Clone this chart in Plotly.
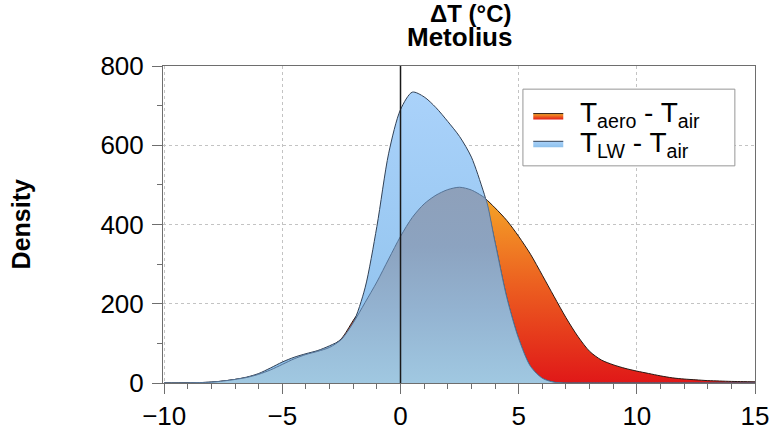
import numpy as np
import plotly.graph_objects as go

# ---- data ----
dT = [-10, -9.5, -9, -8.5, -8, -7.5, -7, -6.5, -6, -5.5, -5, -4.5, -4, -3.5, -3, -2.5, -2, -1.5,
      -1, -0.5, 0, 0.5, 1, 1.5, 2, 2.5, 3, 3.5, 3.6, 4, 4.5, 5, 5.5, 6, 6.5, 7, 7.5, 8, 8.5,
      9, 9.5, 10, 10.5, 11, 11.5, 12, 12.5, 13, 13.5, 14, 14.5, 15]
dens_aero = [0, 0, 0.3, 1, 2, 5, 9, 14, 22, 33, 47, 61, 72, 80, 90, 112, 158, 203,
             255, 313, 370, 418, 452, 474, 488, 494, 487, 470, 465, 442, 410, 370, 325, 272, 218, 165, 118, 80, 58,
             46, 37, 30, 24, 18, 13, 10, 8, 6, 5, 4, 3.5, 3]
dens_lw = [0, 0, 0.3, 1, 2.5, 5, 9, 15, 24, 38, 53, 65, 74, 82, 94, 110, 152, 240,
           395, 580, 690, 734, 722, 695, 660, 622, 570, 485, 465, 355, 215, 112, 42, 12, 2, 0, 0, 0, 0,
           0, 0, 0, 0, 0, 0, 0, 0, 0, 0, 0, 0, 0]
series_names = ["T<sub>aero</sub> - T<sub>air</sub>", "T<sub>LW</sub> - T<sub>air</sub>"]
x_ticks = [-10, -5, 0, 5, 10, 15]
y_ticks = [0, 200, 400, 600, 800]

overlap = np.minimum(np.array(dens_aero), np.array(dens_lw))

fig = go.Figure()
fig.add_trace(go.Scatter(
    x=dT, y=dens_aero, mode="lines", fill="tozeroy", line_shape="spline",
    line=dict(color="rgb(40,25,20)", width=1, smoothing=0.8),
    fillgradient=dict(type="vertical", start=0, stop=max(dens_aero),
                      colorscale=[[0, "rgb(224,24,24)"], [0.5, "rgb(236,95,32)"], [1, "rgb(246,172,40)"]]),
    name=" "))
fig.add_trace(go.Scatter(
    x=dT, y=dens_lw, mode="lines", fill="tozeroy", line_shape="spline",
    line=dict(color="rgb(50,65,85)", width=1, smoothing=0.8),
    fillgradient=dict(type="vertical", start=0, stop=max(dens_lw),
                      colorscale=[[0, "rgb(140,192,235)"], [1, "rgb(170,210,250)"]]),
    name="  "))
fig.add_trace(go.Scatter(
    x=dT, y=overlap, mode="lines", fill="tozeroy", line_shape="spline",
    line=dict(color="rgb(85,115,150)", width=1, smoothing=0.8),
    fillgradient=dict(type="vertical", start=0, stop=float(overlap.max()),
                      colorscale=[[0, "rgb(160,200,225)"], [0.35, "rgb(148,180,210)"],
                                  [0.7, "rgb(140,163,192)"], [1, "rgb(142,160,186)"]]),
    showlegend=False, hoverinfo="skip"))

fig.add_shape(type="line", x0=0, x1=0, y0=0, y1=800, xref="x", yref="y",
              line=dict(color="rgb(25,25,25)", width=1.5), layer="above")
# legend frame
fig.add_shape(type="rect", x0=0.608, x1=0.966, y0=0.685, y1=0.927, xref="paper", yref="paper",
              line=dict(color="rgb(150,150,150)", width=1), fillcolor="white", layer="above")

axis_common = dict(showline=True, linecolor="rgb(110,110,110)", linewidth=1, mirror=True,
                   ticks="outside", ticklen=10, tickcolor="rgb(110,110,110)", tickwidth=1,
                   showgrid=True, gridcolor="rgb(195,195,195)", griddash="dot", gridwidth=1,
                   zeroline=False, automargin=False,
                   tickfont=dict(family="Liberation Sans, Arial, sans-serif", size=26, color="black"))

fig.update_xaxes(range=[-10.05, 15], tickvals=x_ticks, ticklabelstandoff=0,
                 minor=dict(dtick=1, ticklen=5, ticks="outside", tickcolor="rgb(110,110,110)", showgrid=False),
                 **axis_common)
fig.update_yaxes(range=[0, 800], tickvals=y_ticks, ticklabelstandoff=3,
                 minor=dict(dtick=100, ticklen=5, ticks="outside", tickcolor="rgb(110,110,110)", showgrid=False),
                 **axis_common)

legend_text = [dict(text=series_names[i], x=(578 - 163) / 592, y=yy, xref="paper", yref="paper",
                    showarrow=False, font=dict(size=28), xanchor="left", yanchor="middle")
               for i, yy in enumerate([0.848, 0.752])]

fig.update_layout(
    width=773, height=429, autosize=False,
    margin=dict(l=163, r=18, t=66, b=46),
    paper_bgcolor="white", plot_bgcolor="white",
    font=dict(family="Liberation Sans, Arial, sans-serif", color="black"),
    legend=dict(x=0.617, y=0.903, xanchor="left", yanchor="top",
                borderwidth=0, bgcolor="rgba(0,0,0,0)",
                font=dict(size=19, family="Liberation Sans, Arial, sans-serif"),
                tracegroupgap=0, itemwidth=30),
    annotations=[
        dict(text="<b>ΔT (°C)</b>", x=0.52, y=1.165, xref="paper", yref="paper",
             showarrow=False, font=dict(size=24), xanchor="center", yanchor="middle"),
        dict(text="<b>Metolius</b>", x=0.5, y=1.09, xref="paper", yref="paper",
             showarrow=False, font=dict(size=26), xanchor="center", yanchor="middle"),
        dict(text="<b>Density</b>", x=-0.24, y=0.5, xref="paper", yref="paper",
             showarrow=False, font=dict(size=25), textangle=-90, xanchor="center", yanchor="middle"),
    ] + legend_text,
)

fig.write_html("out.html")
